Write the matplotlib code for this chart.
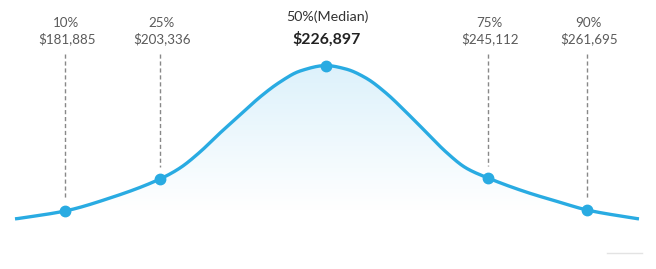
import numpy as np
import matplotlib
matplotlib.use("Agg")
import matplotlib.pyplot as plt
from matplotlib.patches import Polygon
from matplotlib.colors import LinearSegmentedColormap

# ---- data ----
pct_labels = ["10%", "25%", "50%(Median)", "75%", "90%"]
salaries = [181885, 203336, 226897, 245112, 261695]
# horizontal placement of each percentile marker on the curve (chart units)
pct_pos = [65, 160, 326, 488, 587]
curve_x = [15, 65, 110, 160, 180, 200, 220, 240, 260, 280, 300, 326, 346, 366,
           386, 406, 426, 446, 466, 488, 526, 559, 587, 639]
curve_y = [219, 211, 198, 179, 168, 152, 133, 115, 97, 82, 71, 65.5, 69, 78,
           93, 112, 132, 152, 168, 178, 192, 202, 210, 219]


def pchip(x, y, xs):
    x = np.asarray(x, float); y = np.asarray(y, float)
    h = np.diff(x); delta = np.diff(y) / h
    n = len(x); m = np.zeros(n)
    for k in range(1, n - 1):
        if delta[k - 1] * delta[k] > 0:
            w1 = 2 * h[k] + h[k - 1]; w2 = h[k] + 2 * h[k - 1]
            m[k] = (w1 + w2) / (w1 / delta[k - 1] + w2 / delta[k])
    m[0] = delta[0]; m[-1] = delta[-1]
    idx = np.clip(np.searchsorted(x, xs) - 1, 0, n - 2)
    t = (xs - x[idx]) / h[idx]
    h00 = 2 * t**3 - 3 * t**2 + 1; h10 = t**3 - 2 * t**2 + t
    h01 = -2 * t**3 + 3 * t**2; h11 = t**3 - t**2
    return h00 * y[idx] + h10 * h[idx] * m[idx] + h01 * y[idx + 1] + h11 * h[idx] * m[idx + 1]


fig = plt.figure(figsize=(6.56, 2.69), dpi=100)
ax = fig.add_axes([0, 0, 1, 1])
ax.set_xlim(0, 656)
ax.set_ylim(269, 0)
ax.axis("off")

xs = np.linspace(curve_x[0], curve_x[-1], 800)
ys = pchip(curve_x, curve_y, xs)
# light smoothing of the outline
k = np.ones(9) / 9
ys_s = np.convolve(np.r_[np.full(4, ys[0]), ys, np.full(4, ys[-1])], k, mode="valid")

blue = "#29abe2"

cmap = LinearSegmentedColormap.from_list("g", ["#dcf1fb", "#ffffff"])
grad = np.linspace(0, 1, 256).reshape(-1, 1)
im = ax.imshow(grad, extent=[curve_x[0], curve_x[-1], 210, 62], cmap=cmap,
               aspect="auto", zorder=1, interpolation="bilinear")
poly = Polygon(np.column_stack([np.r_[xs, xs[-1], xs[0]], np.r_[ys_s, 269, 269]]),
               closed=True, facecolor="none", edgecolor="none")
ax.add_patch(poly)
im.set_clip_path(poly)

ax.plot(xs, ys_s, color=blue, lw=2.4, zorder=3, solid_capstyle="butt")

pt_y = np.interp(pct_pos, xs, ys_s)
ax.plot(pct_pos, pt_y, "o", color=blue, ms=7.5, zorder=4)

for i, (lab, sal, px, py) in enumerate(zip(pct_labels, salaries, pct_pos, pt_y)):
    txt = "${:,}".format(sal)
    if i == 2:
        ax.text(px + 1, 17, lab, ha="center", va="center", fontsize=10.3,
                color="#333333", family="Lato")
        ax.text(px + 1, 39, txt, ha="center", va="center", fontsize=11.4,
                color="#222222", family="Lato", fontweight="bold")
    else:
        ax.text(px + 1, 23, lab, ha="center", va="center", fontsize=9.6,
                color="#5a5a5a", family="Lato")
        ax.text(px + 2, 39, txt, ha="center", va="center", fontsize=9.6,
                color="#5a5a5a", family="Lato")
        ax.plot([px, px], [54, py - 12], color="#888888", lw=1,
                dashes=(3, 2), zorder=2)

ax.plot([607, 642], [253, 253], color="#e3e3e3", lw=1)

fig.savefig("out.png", dpi=100)
